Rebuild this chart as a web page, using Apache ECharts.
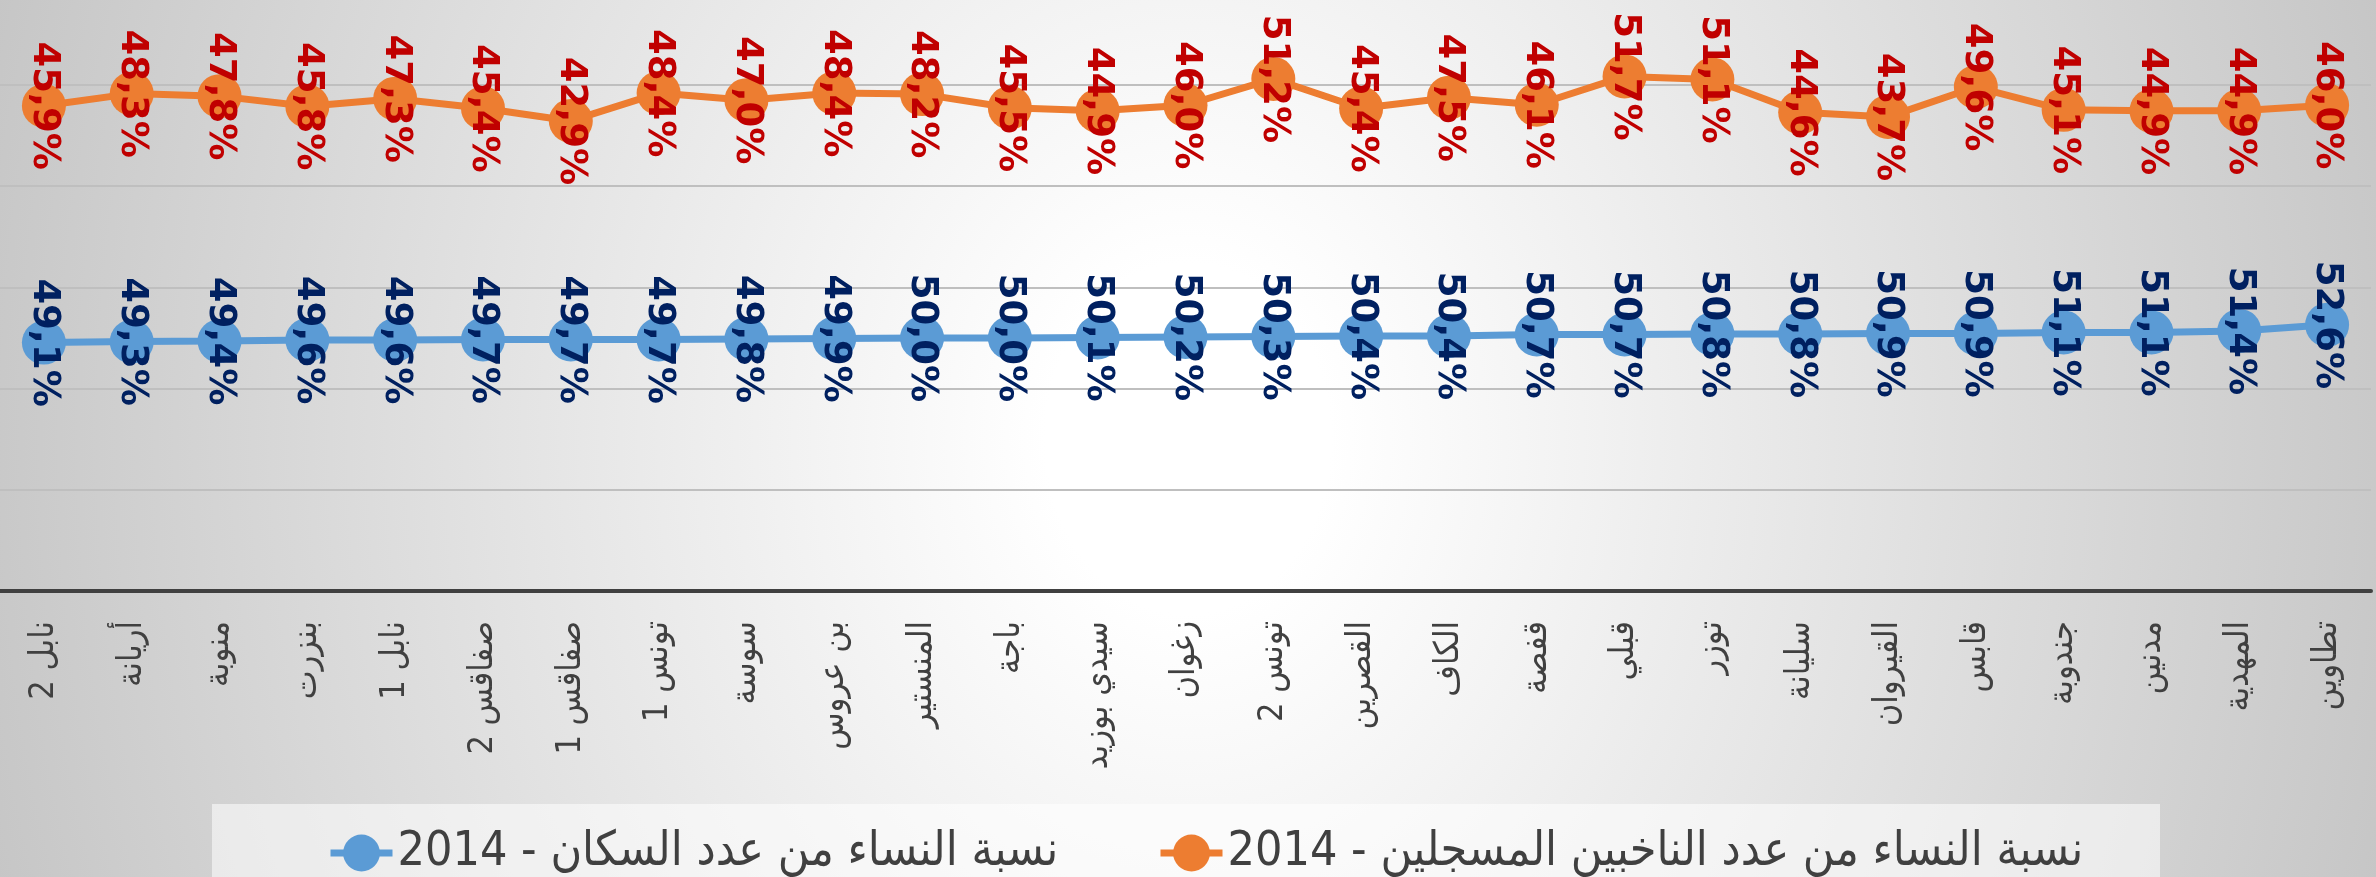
<!DOCTYPE html>
<html>
<head>
<meta charset="utf-8">
<script src="https://cdn.jsdelivr.net/npm/echarts@6/dist/echarts.min.js"></script>
<style>
html,body{margin:0;padding:0;width:2376px;height:877px;overflow:hidden;}
#chart{width:2376px;height:877px;background:radial-gradient(ellipse 60% 200% at 50% 50%, #ffffff 10%, #c4c4c4 90%);}
</style>
</head>
<body>
<div id="chart"></div>
<script>
const categories = ['نابل 2','أريانة','منوبة','بنزرت','نابل 1','صفاقس 2','صفاقس 1','تونس 1','سوسة','بن عروس','المنستير','باجة','سيدي بوزيد','زغوان','تونس 2','القصرين','الكاف','قفصة','قبلي','توزر','سليانة','القيروان','قابس','جندوبة','مدنين','المهدية','تطاوين'];
const votersShare = [45.9,48.3,47.8,45.8,47.3,45.4,42.9,48.4,47.0,48.4,48.2,45.5,44.9,46.0,51.2,45.4,47.5,46.1,51.7,51.1,44.6,43.7,49.6,45.1,44.9,44.9,46.0];
const populationShare = [49.1,49.3,49.4,49.6,49.6,49.7,49.7,49.7,49.8,49.9,50.0,50.0,50.1,50.2,50.3,50.4,50.4,50.7,50.7,50.8,50.8,50.9,50.9,51.1,51.1,51.4,52.6];
const nameVoters = 'نسبة النساء من عدد الناخبين المسجلين - 2014';
const namePopulation = 'نسبة النساء من عدد السكان - 2014';

const fmt = p => p.value.toFixed(1).replace('.', ',') + '%';
const chart = echarts.init(document.getElementById('chart'), null, {renderer:'canvas'});
const legendText = {color:'#404040', fontSize:48, fontFamily:'DejaVu Sans Condensed, DejaVu Sans'};
chart.setOption({
  animation:false,
  grid:{left:0, right:5, top:0, bottom:286, containLabel:false},
  graphic:[{type:'rect', z:-1, shape:{x:212, y:804, width:1948, height:90}, style:{fill:'rgba(255,255,255,0.55)'}}],
  legend:[
    {data:[namePopulation], left:322, top:824, itemWidth:62, itemHeight:46, lineStyle:{width:7}, textStyle:legendText},
    {data:[nameVoters], left:1152, top:824, itemWidth:62, itemHeight:46, lineStyle:{width:7}, textStyle:legendText}
  ],
  xAxis:{type:'category', data:categories, boundaryGap:true,
    axisLine:{lineStyle:{color:'#404040', width:4}}, axisTick:{show:false},
    axisLabel:{rotate:90, interval:0, margin:30, fontSize:34, color:'#404040', fontFamily:'DejaVu Sans Condensed, DejaVu Sans'}},
  yAxis:[
    {type:'value', min:0, max:116.8, interval:20, axisLine:{show:false}, axisTick:{show:false}, axisLabel:{show:false},
      splitLine:{showMaxLine:false, lineStyle:{color:'#bfbfbf', width:2}}},
    {type:'value', min:-50, max:66.8, interval:20, axisLine:{show:false}, axisTick:{show:false}, axisLabel:{show:false}, splitLine:{show:false}}
  ],
  series:[
    {name:nameVoters, type:'line', yAxisIndex:1, data:votersShare, symbol:'circle', symbolSize:44,
      itemStyle:{color:'#ED7D31'}, lineStyle:{color:'#ED7D31', width:7},
      label:{show:true, position:'inside', rotate:-90, formatter:fmt, color:'#C00000', fontSize:37, fontWeight:'bold', fontFamily:'DejaVu Sans'}},
    {name:namePopulation, type:'line', yAxisIndex:0, data:populationShare, symbol:'circle', symbolSize:44,
      itemStyle:{color:'#5B9BD5'}, lineStyle:{color:'#5B9BD5', width:7},
      label:{show:true, position:'inside', rotate:-90, formatter:fmt, color:'#002060', fontSize:37, fontWeight:'bold', fontFamily:'DejaVu Sans'}}
  ]
});
</script>
</body>
</html>
